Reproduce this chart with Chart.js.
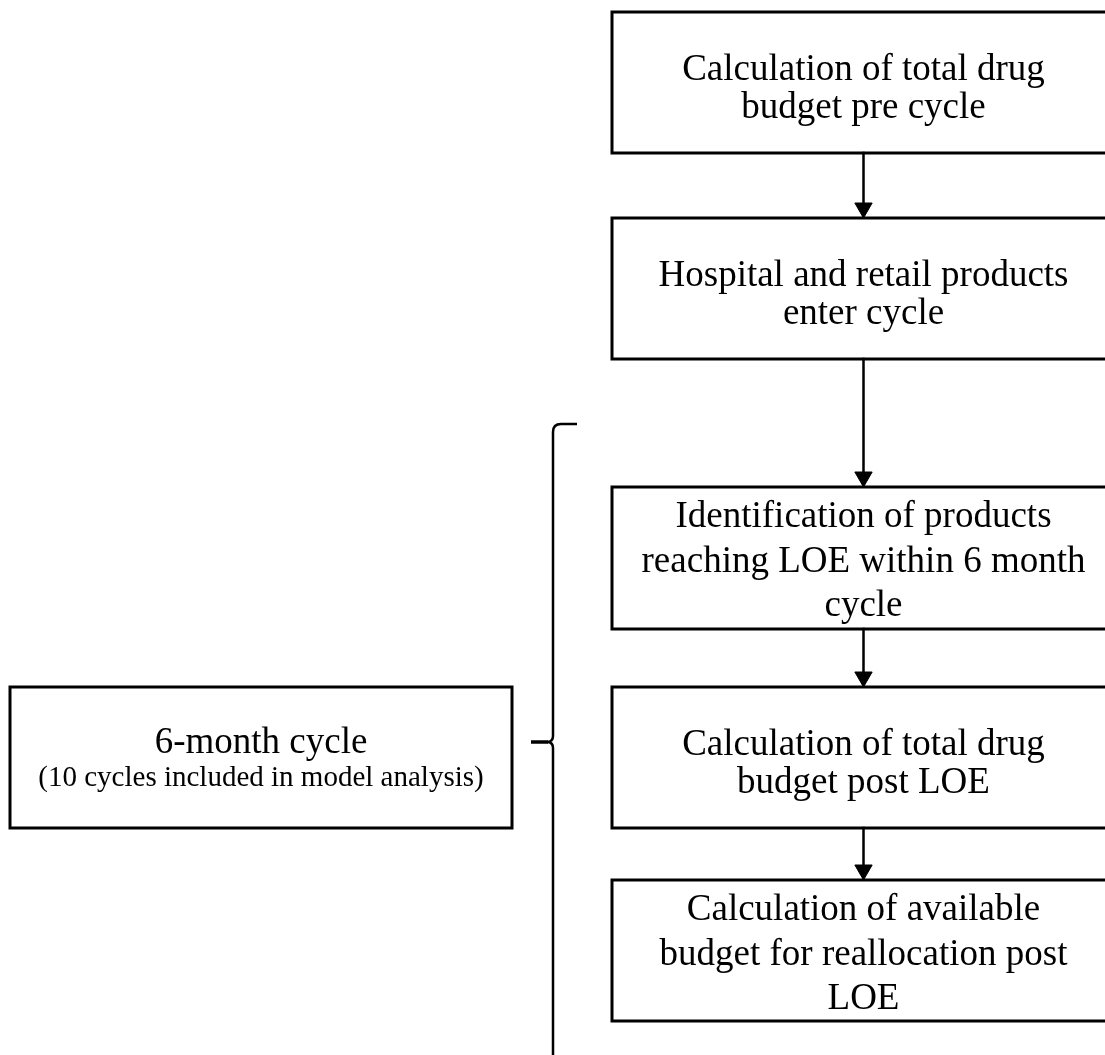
<!DOCTYPE html>
<html>
<head>
<meta charset="utf-8">
<script src="https://cdn.jsdelivr.net/npm/chart.js@4.4.1/dist/chart.umd.min.js"></script>
<style>
  html, body { margin: 0; padding: 0; background: #fff; }
  #wrap { width: 1105px; height: 1055px; position: relative; }
</style>
</head>
<body>
<div id="wrap"><canvas id="flow"></canvas></div>
<script>
// flow steps (right column), text already broken into lines like the original
const stepLines = [
    ['Calculation of total drug', 'budget pre cycle'],
    ['Hospital and retail products', 'enter cycle'],
    ['Identification of products', 'reaching LOE within 6 month', 'cycle'],
    ['Calculation of total drug', 'budget post LOE'],
    ['Calculation of available', 'budget for reallocation post', 'LOE']
];
const stepTop = [12, 218, 487, 687, 880];
const stepBottom = [153, 359, 629, 828, 1021];
const stepLeft = 612;
const stepRight = 1115;   // box runs past the page edge

// cycle box (left) and brace
const cycleLines = ['6-month cycle', '(10 cycles included in model analysis)'];
const cycleBox = { left: 10, right: 512, top: 687, bottom: 828 };
const braceX = 553, braceTop = 424, braceTip = 742, braceBottom = 1060;

const ARROW_R = 10;
const INK = '#000';
const SERIF = '"Liberation Serif", "Times New Roman", serif';

function rectPoints(l, r, t, b) {
    return [{ x: l, y: t }, { x: r, y: t }, { x: r, y: b }, { x: l, y: b }, { x: l, y: t }];
}

const datasets = [];

// step boxes
stepTop.forEach((t, i) => {
    datasets.push({
        type: 'line',
        data: rectPoints(stepLeft, stepRight, t, stepBottom[i]),
        borderColor: INK,
        borderWidth: 3,
        pointRadius: 0,
        fill: false,
        tension: 0
    });
});

// cycle box
datasets.push({
    type: 'line',
    data: rectPoints(cycleBox.left, cycleBox.right, cycleBox.top, cycleBox.bottom),
    borderColor: INK,
    borderWidth: 3,
    pointRadius: 0,
    fill: false
});

// connectors with arrow heads
const midX = (stepLeft + stepRight) / 2;
for (let i = 0; i < stepTop.length - 1; i++) {
    datasets.push({
        type: 'line',
        data: [{ x: midX, y: stepBottom[i] }, { x: midX, y: stepTop[i + 1] - ARROW_R }],
        borderColor: INK,
        borderWidth: 2.5,
        pointRadius: [0, ARROW_R],
        pointStyle: 'triangle',
        rotation: 180,
        pointBackgroundColor: INK,
        pointBorderColor: INK,
        pointBorderWidth: 1,
        fill: false
    });
}

// text + curly brace
const flowText = {
    id: 'flowText',
    afterDatasetsDraw(chart) {
        const { ctx, scales: { x, y } } = chart;
        ctx.save();
        ctx.fillStyle = INK;
        ctx.textAlign = 'center';
        ctx.textBaseline = 'alphabetic';

        ctx.font = '37px ' + SERIF;
        const cx = x.getPixelForValue(midX);
        stepLines.forEach((lines, i) => {
            const top = y.getPixelForValue(stepTop[i]);
            const bottom = y.getPixelForValue(stepBottom[i]);
            if (lines.length === 3) {
                // three-line boxes fill the box
                lines.forEach((s, k) => ctx.fillText(s, cx, top + 40 + k * 44.5));
            } else {
                lines.forEach((s, k) => ctx.fillText(s, cx, bottom - 35 - (lines.length - 1 - k) * 38));
            }
        });

        const ccx = x.getPixelForValue((cycleBox.left + cycleBox.right) / 2);
        ctx.font = '37px ' + SERIF;
        ctx.fillText(cycleLines[0], ccx, y.getPixelForValue(753));
        ctx.font = '29px ' + SERIF;
        ctx.fillText(cycleLines[1], ccx, y.getPixelForValue(786));

        // brace
        const bx = x.getPixelForValue(braceX);
        const bt = y.getPixelForValue(braceTop);
        const bm = y.getPixelForValue(braceTip);
        const bb = y.getPixelForValue(braceBottom);
        ctx.strokeStyle = INK;
        ctx.lineWidth = 2.5;
        ctx.beginPath();
        ctx.moveTo(x.getPixelForValue(577), bt);
        ctx.lineTo(bx + 8, bt);
        ctx.quadraticCurveTo(bx, bt, bx, bt + 8);
        ctx.lineTo(bx, bm - 6);
        ctx.quadraticCurveTo(bx, bm, bx - 6, bm);
        ctx.quadraticCurveTo(bx, bm, bx, bm + 6);
        ctx.lineTo(bx, bb);
        ctx.stroke();
        ctx.lineWidth = 3.5;
        ctx.beginPath();
        ctx.moveTo(x.getPixelForValue(531), bm);
        ctx.lineTo(bx - 5, bm);
        ctx.stroke();
        ctx.restore();
    }
};

new Chart(document.getElementById('flow'), {
    type: 'scatter',
    data: { datasets },
    options: {
        responsive: true,
        maintainAspectRatio: false,
        animation: false,
        layout: { padding: 0, autoPadding: false },
        plugins: { legend: { display: false }, tooltip: { enabled: false } },
        elements: { line: { borderCapStyle: 'square', borderJoinStyle: 'miter' } },
        scales: {
            x: { type: 'linear', min: 0, max: 1105, display: false },
            y: { type: 'linear', min: 0, max: 1055, reverse: true, display: false }
        }
    },
    plugins: [flowText]
});
</script>
</body>
</html>
